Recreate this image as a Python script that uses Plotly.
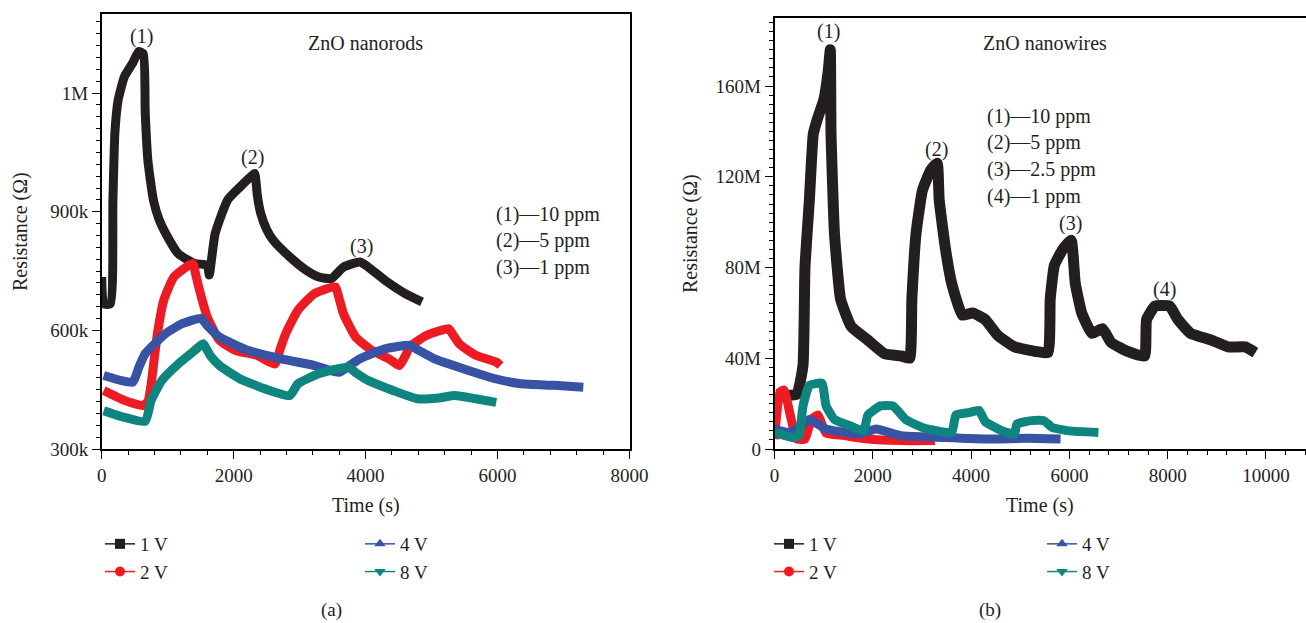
import plotly.graph_objects as go

# ---------------- Data: (a) ZnO nanorods ----------------
a_1v_t = [0, 30, 130, 170, 200, 250, 345, 470, 560, 630, 660, 700, 783, 870, 970, 1160, 1410,
          1600, 1630, 1720, 1910, 2100, 2290, 2320, 2360, 2410, 2500, 2600, 2850, 3100, 3290,
          3480, 3665, 3915, 4040, 4290, 4600, 4855]
a_1v_r = [735e3, 667e3, 667e3, 930e3, 1100e3, 1183e3, 1242e3, 1276e3, 1305e3, 1300e3, 1150e3,
          1030e3, 930e3, 880e3, 845e3, 794e3, 769e3, 765e3, 740e3, 845e3, 930e3, 963e3, 993e3,
          997e3, 940e3, 896e3, 855e3, 828e3, 786e3, 752e3, 735e3, 731e3, 760e3, 773e3, 760e3,
          727e3, 693e3, 672e3]

a_2v_t = [30, 345, 625, 700, 750, 845, 940, 1095, 1380, 1420, 1470, 1600, 1785, 2035, 2350, 2630,
          2700, 2790, 2975, 3225, 3540, 3600, 3665, 3850, 4100, 4355, 4510, 4600, 4670, 4920,
          5260, 5320, 5420, 5670, 5980, 6045]
a_2v_r = [448e3, 423e3, 410e3, 420e3, 465e3, 592e3, 676e3, 735e3, 769e3, 745e3, 710e3, 634e3,
          575e3, 549e3, 537e3, 515e3, 550e3, 592e3, 651e3, 693e3, 710e3, 680e3, 642e3, 583e3,
          549e3, 528e3, 511e3, 535e3, 558e3, 587e3, 604e3, 590e3, 566e3, 537e3, 520e3, 511e3]

a_4v_t = [30, 470, 560, 660, 970, 1220, 1505, 1600, 1785, 2225, 2725, 3225, 3600, 3750, 3915,
          4290, 4670, 4800, 5045, 5480, 5980, 6360, 6860, 7300]
a_4v_r = [486e3, 469e3, 505e3, 541e3, 592e3, 617e3, 630e3, 612e3, 583e3, 549e3, 528e3, 511e3,
          494e3, 510e3, 528e3, 553e3, 562e3, 550e3, 528e3, 503e3, 477e3, 465e3, 461e3, 456e3]

a_8v_t = [30, 345, 660, 750, 910, 1160, 1410, 1535, 1650, 1785, 2100, 2475, 2850, 2975, 3290,
          3730, 3850, 4040, 4415, 4790, 5105, 5355, 5670, 5980]
a_8v_r = [397e3, 380e3, 370e3, 423e3, 473e3, 515e3, 549e3, 566e3, 535e3, 511e3, 477e3, 452e3,
          435e3, 465e3, 490e3, 507e3, 493e3, 473e3, 448e3, 427e3, 429e3, 435e3, 427e3, 418e3]

# ---------------- Data: (b) ZnO nanowires ----------------
b_1v_t = [25, 450, 580, 620, 710, 790, 880, 1005, 1090, 1135, 1150, 1220, 1345, 1560, 1900, 2240,
          2580, 2750, 2795, 2880, 3010, 3180, 3310, 3350, 3480, 3605, 3820, 4030, 4290, 4545,
          4885, 5310, 5565, 5610, 5695, 5865, 6035, 6120, 6250, 6460, 6675, 6845, 7185, 7530,
          7570, 7740, 8040, 8210, 8465, 8890, 9230, 9575, 9785]
b_1v_r = [24e6, 24e6, 37e6, 80e6, 110e6, 139e6, 146e6, 154e6, 166e6, 176e6, 139e6, 95e6, 66e6,
          54e6, 48e6, 42e6, 41e6, 40e6, 66e6, 95e6, 114e6, 123e6, 126e6, 110e6, 88e6, 73e6, 59e6,
          60e6, 57e6, 50e6, 45e6, 43e6, 42.5e6, 66e6, 81e6, 88e6, 92e6, 73e6, 60e6, 51e6, 53e6,
          47e6, 43e6, 41e6, 57e6, 63e6, 63e6, 57e6, 51e6, 48e6, 45e6, 45e6, 42.5e6]

b_2v_t = [0, 110, 195, 320, 450, 620, 750, 880, 1050, 1390, 1900, 2580, 3265]
b_2v_r = [4.4e6, 25e6, 26e6, 15e6, 4.4e6, 4.4e6, 13e6, 15e6, 7e6, 6e6, 4.4e6, 3.7e6, 3.7e6]

b_4v_t = [0, 280, 450, 710, 1050, 1730, 2070, 2580, 3435, 4290, 5140, 5820]
b_4v_r = [8.8e6, 7.3e6, 8.8e6, 13e6, 8.8e6, 6.6e6, 8.8e6, 5.9e6, 5.1e6, 4.4e6, 4.7e6, 4.4e6]

b_8v_t = [0, 365, 495, 580, 710, 965, 1050, 1220, 1560, 1815, 1900, 2155, 2410, 2670, 3010, 3605,
          3690, 3945, 4160, 4290, 4630, 4885, 4930, 5225, 5480, 5650, 5995, 6590]
b_8v_r = [7.3e6, 5.1e6, 5.9e6, 19e6, 28e6, 29e6, 19e6, 13e6, 10e6, 8e6, 15e6, 19e6, 19e6, 13e6,
          9.5e6, 7.3e6, 15e6, 16e6, 17e6, 12e6, 8e6, 6.6e6, 11e6, 12.5e6, 12.5e6, 9.5e6, 8e6, 7.3e6]

series_names = ["1 V", "2 V", "4 V", "8 V"]
colors = ["#231f20", "#ed1c24", "#3953a4", "#0f8580"]
symbols = ["square", "circle", "triangle-up", "triangle-down"]

a_x_tickvals = [0, 2000, 4000, 6000, 8000]
a_y_tickvals = [300e3, 600e3, 900e3, 1200e3]
a_y_ticktext = ["300k", "600k", "900k", "1M"]
b_x_tickvals = [0, 2000, 4000, 6000, 8000, 10000]
b_x_ticktext = ["0", "2000", "4000", "6000", "8000", "10000"]
b_y_tickvals = [0, 40e6, 80e6, 120e6, 160e6]
b_y_ticktext = ["0", "40M", "80M", "120M", "160M"]

FONT = "Liberation Serif"
TXT = "#231f20"

fig = go.Figure()

a_data = [(a_1v_t, a_1v_r), (a_2v_t, a_2v_r), (a_4v_t, a_4v_r), (a_8v_t, a_8v_r)]
b_data = [(b_1v_t, b_1v_r), (b_2v_t, b_2v_r), (b_4v_t, b_4v_r), (b_8v_t, b_8v_r)]

for i, (t, r) in enumerate(a_data):
    fig.add_trace(go.Scatter(x=t, y=r, mode="lines", xaxis="x", yaxis="y",
                             line=dict(color=colors[i], width=9, shape="spline", smoothing=0.5),
                             showlegend=False, hoverinfo="skip"))
for i, (t, r) in enumerate(b_data):
    fig.add_trace(go.Scatter(x=t, y=r, mode="lines", xaxis="x2", yaxis="y2",
                             line=dict(color=colors[i], width=11 if i == 0 else 9,
                                       shape="spline", smoothing=0.4),
                             showlegend=False, hoverinfo="skip"))

# legend entries (thin line + marker) -- two legends per panel
legend_map_a = ["legend", "legend", "legend2", "legend2"]
legend_map_b = ["legend3", "legend3", "legend4", "legend4"]
for i in range(4):
    fig.add_trace(go.Scatter(x=[None], y=[None], mode="lines+markers", name=series_names[i],
                             xaxis="x", yaxis="y", legend=legend_map_a[i],
                             line=dict(color=colors[i], width=1.5),
                             marker=dict(symbol=symbols[i], size=10, color=colors[i])))
for i in range(4):
    fig.add_trace(go.Scatter(x=[None], y=[None], mode="lines+markers", name=series_names[i],
                             xaxis="x2", yaxis="y2", legend=legend_map_b[i],
                             line=dict(color=colors[i], width=1.5),
                             marker=dict(symbol=symbols[i], size=10, color=colors[i])))

W, H = 1306, 623

def px_x(p):
    return p / W

def px_y(p):
    return 1 - p / H

axis_common = dict(showline=True, linecolor="black", linewidth=1.5, ticks="outside",
                   ticklen=8, tickwidth=1.2, tickcolor="black", showgrid=False, zeroline=False,
                   tickfont=dict(family=FONT, size=19, color=TXT), automargin=False)

def minor(dt):
    return dict(tickmode="linear", tick0=0, dtick=dt, ticklen=4, ticks="outside",
                tickcolor="black", tickwidth=1.2)

fig.update_layout(
    width=W, height=H,
    margin=dict(l=0, r=0, t=0, b=0),
    paper_bgcolor="white", plot_bgcolor="white",
    font=dict(family=FONT, size=19, color=TXT),
    xaxis=dict(domain=[px_x(101.7), px_x(629.5)], range=[0, 8000], anchor="y",
               tickvals=a_x_tickvals, mirror=True, minor=minor(400), **axis_common),
    yaxis=dict(domain=[px_y(449), px_y(14)], range=[300e3, 1.4e6], anchor="x",
               tickvals=a_y_tickvals, ticktext=a_y_ticktext, mirror=True,
               minor=minor(30e3), **axis_common),
    xaxis2=dict(domain=[px_x(774.5), 1.0], range=[0, 10814], anchor="y2",
                tickvals=b_x_tickvals, ticktext=b_x_ticktext, mirror=True,
                minor=minor(400), **axis_common),
    yaxis2=dict(domain=[px_y(449), px_y(18)], range=[0, 190e6], anchor="x2",
                tickvals=b_y_tickvals, ticktext=b_y_ticktext, mirror=False,
                minor=minor(4e6), **axis_common),
)

leg_common = dict(orientation="v", yanchor="top", xanchor="left", bgcolor="rgba(0,0,0,0)",
                  font=dict(family=FONT, size=19, color=TXT), tracegroupgap=0,
                  itemwidth=30)
fig.update_layout(
    legend=dict(x=px_x(100), y=px_y(525), **leg_common),
    legend2=dict(x=px_x(360), y=px_y(525), **leg_common),
    legend3=dict(x=px_x(769), y=px_y(525), **leg_common),
    legend4=dict(x=px_x(1042), y=px_y(525), **leg_common),
)

ann = []
def add_text(text, x, y, xref="paper", yref="paper", xanchor="center", size=20, angle=0):
    ann.append(dict(text=text, x=x, y=y, xref=xref, yref=yref, xanchor=xanchor,
                    yanchor="middle", showarrow=False, textangle=angle,
                    font=dict(family=FONT, size=size, color=TXT)))

# panel (a) annotations (data coordinates)
add_text("ZnO nanorods", 4005, 1.326e6, "x", "y")
add_text("(1)", 610, 1.344e6, "x", "y")
add_text("(2)", 2290, 1.036e6, "x", "y")
add_text("(3)", 3943, 0.813e6, "x", "y")
add_text("(1)—10 ppm", 5945, 0.894e6, "x", "y", xanchor="left")
add_text("(2)—5 ppm", 5945, 0.826e6, "x", "y", xanchor="left")
add_text("(3)—1 ppm", 5945, 0.760e6, "x", "y", xanchor="left")

# panel (b) annotations
add_text("ZnO nanowires", 5505, 179e6, "x2", "y2")
add_text("(1)", 1089, 184e6, "x2", "y2")
add_text("(2)", 3287, 132e6, "x2", "y2")
add_text("(3)", 6013, 99.6e6, "x2", "y2")
add_text("(4)", 7926, 70.5e6, "x2", "y2")
add_text("(1)—10 ppm", 4284, 146.8e6, "x2", "y2", xanchor="left")
add_text("(2)—5 ppm", 4284, 134.9e6, "x2", "y2", xanchor="left")
add_text("(3)—2.5 ppm", 4284, 123e6, "x2", "y2", xanchor="left")
add_text("(4)—1 ppm", 4284, 111.5e6, "x2", "y2", xanchor="left")

# axis titles and panel labels
add_text("Time (s)", px_x(366), px_y(505), size=20)
add_text("Time (s)", px_x(1040), px_y(505), size=20)
add_text("Resistance (Ω)", px_x(20), px_y(232), size=20, angle=-90)
add_text("Resistance (Ω)", px_x(690), px_y(234), size=20, angle=-90)
add_text("(a)", px_x(331), px_y(610), size=19)
add_text("(b)", px_x(990), px_y(610), size=19)

fig.update_layout(annotations=ann)

fig.write_html("out.html")
